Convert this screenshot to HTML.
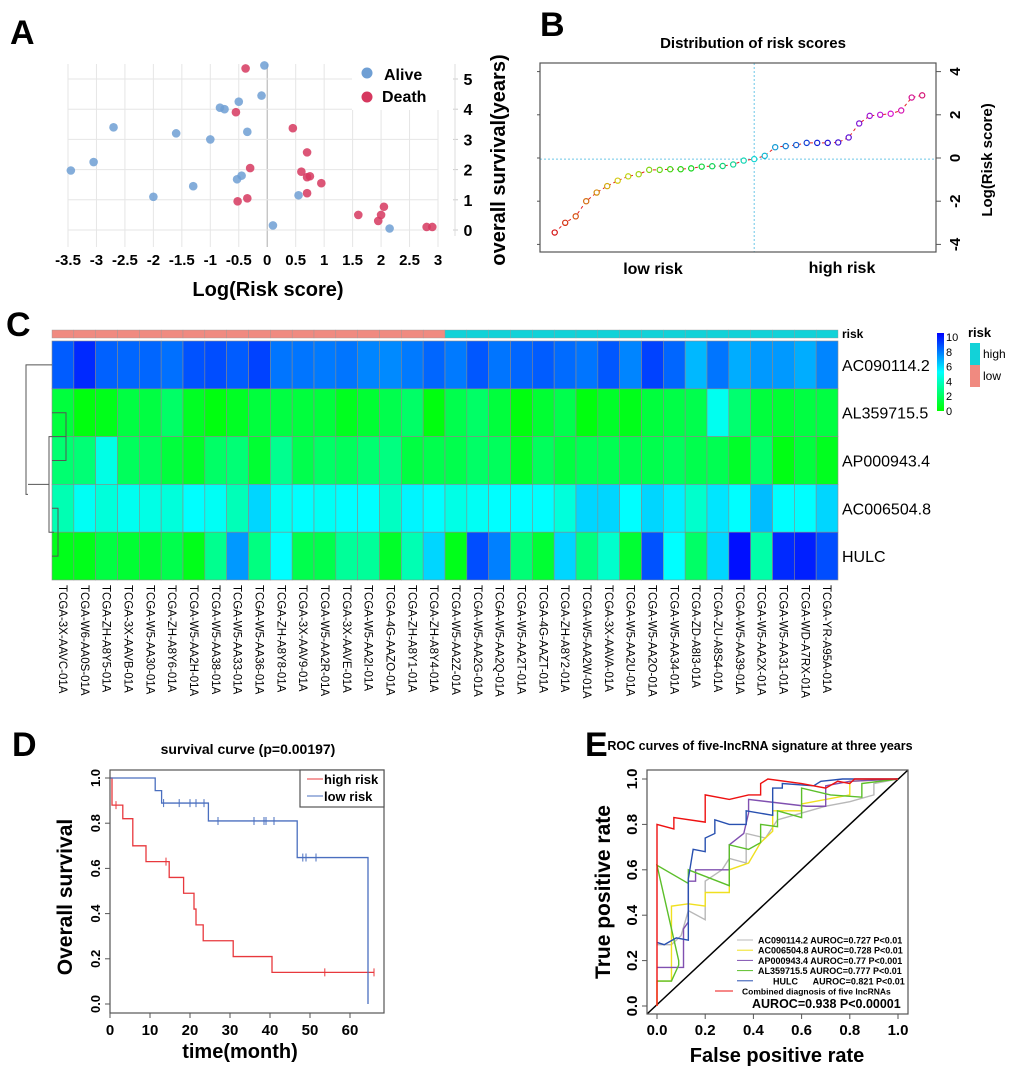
<!DOCTYPE html>
<html><head><meta charset="utf-8"><style>
html,body{margin:0;padding:0;background:#fff;}
svg{display:block;font-family:"Liberation Sans",sans-serif;}
.b{font-weight:bold;}
.pre{white-space:pre;}
</style></head><body>
<svg id="s" width="1020" height="1079" viewBox="0 0 1020 1079">
<text x="10" y="44" font-size="34" class="b">A</text>
<text x="540" y="36" font-size="34" class="b">B</text>
<text x="6" y="336" font-size="34" class="b">C</text>
<text x="12" y="756" font-size="34" class="b">D</text>
<text x="585" y="756" font-size="34" class="b">E</text>
<g id="gA"></g>
<g id="gB"></g>
<g id="gC"></g>
<g id="gD"></g>
<g id="gE"></g>
</svg>
<script>
// ---------- Panel A data ----------
const aliveX=[-0.05,-0.1,-0.5,-0.83,-0.75,-2.7,-1.6,-0.35,-1.0,-3.05,-3.45,-0.45,-0.53,-1.3,-2.0,0.55,0.1,2.15];
const aliveY=[5.45,4.45,4.25,4.05,4.0,3.4,3.2,3.25,3.0,2.25,1.97,1.8,1.68,1.45,1.1,1.15,0.15,0.05];
const deathX=[-0.38,-0.55,0.45,0.7,-0.3,0.6,0.7,0.75,0.95,0.7,-0.52,-0.35,2.05,1.6,2.0,1.95,2.8,2.9];
const deathY=[5.35,3.9,3.37,2.57,2.05,1.93,1.75,1.78,1.55,1.22,0.95,1.05,0.77,0.5,0.5,0.3,0.1,0.1];
const aXTicks=[-3.5,-3,-2.5,-2,-1.5,-1,-0.5,0,0.5,1,1.5,2,2.5,3];
const aYTicks=[0,1,2,3,4,5];
// ---------- Panel B data ----------
const riskScores=[-3.45,-3.0,-2.7,-2.0,-1.6,-1.3,-1.05,-0.85,-0.75,-0.55,-0.55,-0.52,-0.52,-0.48,-0.4,-0.38,-0.37,-0.3,-0.12,-0.05,0.1,0.5,0.55,0.6,0.7,0.7,0.7,0.72,0.95,1.6,1.95,2.0,2.05,2.2,2.8,2.9];
const bYTicks=[-4,-2,0,2,4];
// ---------- Panel C data ----------
const genes=["AC090114.2","AL359715.5","AP000943.4","AC006504.8","HULC"];
const samples=["TCGA-3X-AAVC-01A","TCGA-W6-AA0S-01A","TCGA-ZH-A8Y5-01A","TCGA-3X-AAVB-01A","TCGA-W5-AA30-01A","TCGA-ZH-A8Y6-01A","TCGA-W5-AA2H-01A","TCGA-W5-AA38-01A","TCGA-W5-AA33-01A","TCGA-W5-AA36-01A","TCGA-ZH-A8Y8-01A","TCGA-3X-AAV9-01A","TCGA-W5-AA2R-01A","TCGA-3X-AAVE-01A","TCGA-W5-AA2I-01A","TCGA-4G-AAZO-01A","TCGA-ZH-A8Y1-01A","TCGA-ZH-A8Y4-01A","TCGA-W5-AA2Z-01A","TCGA-W5-AA2G-01A","TCGA-W5-AA2Q-01A","TCGA-W5-AA2T-01A","TCGA-4G-AAZT-01A","TCGA-ZH-A8Y2-01A","TCGA-W5-AA2W-01A","TCGA-3X-AAVA-01A","TCGA-W5-AA2U-01A","TCGA-W5-AA2O-01A","TCGA-W5-AA34-01A","TCGA-ZD-A8I3-01A","TCGA-ZU-A8S4-01A","TCGA-W5-AA39-01A","TCGA-W5-AA2X-01A","TCGA-W5-AA31-01A","TCGA-WD-A7RX-01A","TCGA-YR-A95A-01A"];
const riskGroup=["low","low","low","low","low","low","low","low","low","low","low","low","low","low","low","low","low","low","high","high","high","high","high","high","high","high","high","high","high","high","high","high","high","high","high","high"];
const rowAC090114=[8.2,9.2,8.1,8.0,8.0,7.8,8.4,8.5,8.2,8.7,7.7,7.7,7.6,7.7,7.4,7.3,7.6,8.0,7.6,8.3,7.7,8.0,8.2,7.9,7.7,8.3,7.4,8.7,8.0,6.4,7.7,6.6,7.0,7.0,6.6,7.4];
const rowAL359715=[1.2,0.3,0.5,1.3,1.3,2,0.7,0.3,0.7,1.2,1.3,1.2,1.2,0.6,1,1.5,2,0.3,1.5,2,1.2,0.3,1,1.5,0.3,0.8,0.5,1.2,1.4,1.5,4.7,2.2,1.2,1.0,1.3,1.3];
const rowAP000943=[2.2,2.3,4.5,1.8,1.8,1.2,0.8,2,2.3,1,2.8,1.5,2,1.8,2.2,2.5,1.3,1.5,1.5,2,1.8,0.8,1.8,1.3,1.6,1.6,1.5,1.5,1.8,1.5,1.6,0.8,2,0.4,1.2,0.6];
const rowAC006504=[3.5,4.8,4.3,4.7,4.5,4.3,5,4.8,3.6,5.8,4.8,5,4.8,5,5,3.8,5.2,5,4.5,4.8,5,5,5,4.3,5.8,5.8,5,5.8,5.3,4,5.5,5,6.3,5,5,5.8];
const rowHULC=[0.5,0.5,1.3,1,1,1.5,0.5,2.8,7,2.5,5,1.5,1.5,3,3,0.8,3.5,5.8,0.5,8.5,7.5,2.3,1,5.8,2.5,4,1,8.4,5,2,5.8,9.7,3.3,9.2,9.4,8.5];
const colorbarTicks=[0,2,4,6,8,10];
// ---------- Panel D data ----------
const highT=[0,0.5,3.2,5.7,9,14.8,18.4,21,21.5,23.3,30.8,40.5,66];
const highS=[1.0,0.88,0.82,0.70,0.63,0.56,0.49,0.42,0.35,0.28,0.21,0.14,0.14];
const highCensT=[1.5,14,53.7,66];
const highCensS=[0.88,0.63,0.14,0.14];
const lowT=[0,11.3,12.9,24.6,46.8,64.5];
const lowS=[1.0,0.944,0.889,0.81,0.648,0];
const lowCensT=[13.4,17.3,20,21.5,23.5,27,36,38.5,39,41,48.2,49,51.5];
const lowCensS=[0.889,0.889,0.889,0.889,0.889,0.81,0.81,0.81,0.81,0.81,0.648,0.648,0.648];
const dXTicks=[0,10,20,30,40,50,60];
const dYTicks=[0,0.2,0.4,0.6,0.8,1.0];
// ---------- Panel E data ----------
const grayF=[0,0.06,0.1,0.13,0.2,0.2,0.27,0.3,0.37,0.37,0.45,0.5,0.6,0.7,0.8,0.9,0.9,1];
const grayT=[0.27,0.27,0.31,0.42,0.38,0.55,0.6,0.65,0.63,0.76,0.74,0.82,0.85,0.88,0.9,0.93,0.98,1];
const yellowF=[0,0,0.06,0.06,0.13,0.2,0.2,0.3,0.3,0.38,0.43,0.48,0.48,0.6,0.6,0.7,0.8,0.8,1];
const yellowT=[0,0.11,0.11,0.44,0.45,0.44,0.5,0.5,0.6,0.63,0.72,0.77,0.86,0.86,0.89,0.91,0.93,0.99,1];
const purpleF=[0,0.11,0.11,0.13,0.13,0.16,0.16,0.3,0.3,0.36,0.38,0.38,0.62,0.7,0.7,0.8,1];
const purpleT=[0.17,0.17,0.34,0.37,0.55,0.55,0.6,0.6,0.71,0.76,0.85,0.91,0.88,0.88,0.97,0.99,1];
const greenF=[0,0.06,0.09,0.09,0,0.13,0.13,0.3,0.3,0.38,0.43,0.43,0.5,0.5,0.6,0.6,0.72,0.85,0.85,1];
const greenT=[0.11,0.11,0.18,0.2,0.62,0.54,0.6,0.53,0.71,0.69,0.72,0.8,0.79,0.86,0.83,0.96,0.93,0.92,0.98,1];
const blueF=[0,0.03,0.08,0.13,0.13,0.15,0.2,0.2,0.24,0.24,0.3,0.37,0.37,0.48,0.48,0.52,0.52,0.65,0.68,0.77,1];
const blueT=[0.28,0.27,0.3,0.29,0.56,0.69,0.68,0.74,0.76,0.82,0.8,0.8,0.86,0.84,0.96,0.96,0.98,0.97,0.99,1.0,1];
const redF=[0,0,0.07,0.07,0.2,0.2,0.3,0.38,0.43,0.43,0.46,0.6,0.7,0.75,0.8,0.82,1];
const redT=[0,0.8,0.78,0.83,0.81,0.93,0.91,0.93,0.93,0.98,1.0,0.98,0.96,0.99,0.98,1.0,1];
const eTicks=[0,0.2,0.4,0.6,0.8,1.0];
const legendLabels=["AC090114.2 AUROC=0.727 P<0.01","AC006504.8 AUROC=0.728 P<0.01","AP000943.4 AUROC=0.77 P<0.001","AL359715.5 AUROC=0.777 P<0.01","      HULC      AUROC=0.821 P<0.01","Combined diagnosis of five lncRNAs"];

const NS="http://www.w3.org/2000/svg";
function mk(parent,tag,attrs,text){const e=document.createElementNS(NS,tag);for(const k in attrs)e.setAttribute(k,attrs[k]);if(text!==undefined)e.textContent=text;parent.appendChild(e);return e;}

// ===== Panel A =====
(function(){
const g=document.getElementById('gA');
const ax=v=>68+(v+3.5)/6.5*370, ay=v=>230-v*30.2;
aXTicks.forEach(t=>{const l=mk(g,'line',{x1:ax(t),x2:ax(t),y1:64,y2:247,stroke:t===0?'#bbb':'#e6e6e6','stroke-width':t===0?1.2:1});

const tx=mk(g,'text',{x:ax(t),y:265,'font-size':15,'text-anchor':'middle',class:'b'},String(t));
});
aYTicks.forEach(t=>{const l=mk(g,'line',{x1:68,x2:438,y1:ay(t),y2:ay(t),stroke:'#e6e6e6'});

const tk=mk(g,'line',{x1:453,x2:458,y1:ay(t),y2:ay(t),stroke:'#ccc'});

const tx=mk(g,'text',{x:468,y:ay(t)+6,'font-size':16,'text-anchor':'middle',class:'b'},String(t));
});
const ra=mk(g,'line',{x1:455,x2:455,y1:64,y2:236,stroke:'#ddd'});

aliveX.forEach((x,i)=>{const c=mk(g,'circle',{cx:ax(x),cy:ay(aliveY[i]),r:4.3,fill:'#6f9fd4','fill-opacity':0.85});
});
deathX.forEach((x,i)=>{const c=mk(g,'circle',{cx:ax(x),cy:ay(deathY[i]),r:4.3,fill:'#d6385f','fill-opacity':0.85});
});
const lg=mk(g,'rect',{x:352,y:60,width:90,height:50,fill:'#fff'});

let c=mk(g,'circle',{cx:367,cy:73,r:5.5,fill:'#6f9fd4'});
c=mk(g,'circle',{cx:367,cy:97,r:5.5,fill:'#d6385f'});
let t=mk(g,'text',{x:384,y:80,'font-size':16,class:'b'},'Alive');
t=mk(g,'text',{x:382,y:102,'font-size':16,class:'b'},'Death');
t=mk(g,'text',{x:268,y:296,'font-size':20,'text-anchor':'middle',class:'b'},'Log(Risk score)');
t=mk(g,'text',{x:0,y:0,'font-size':20,'text-anchor':'middle',class:'b',transform:'translate(505,160) rotate(-90)'},'overall survival(years)');
})();

// ===== Panel B =====
(function(){
const g=document.getElementById('gB');
const x0=540,x1=936,y0=63,y1=252;
const bx=i=>554.7+i*10.5, by=v=>158-v*21.6;
let t=mk(g,'text',{x:753,y:48,'font-size':15,'text-anchor':'middle',class:'b'},'Distribution of risk scores');
const vx=bx(19);
let l=mk(g,'line',{x1:vx,x2:vx,y1:y0,y2:y1,stroke:'#6cc8e8','stroke-dasharray':'2,2','stroke-width':1});
l=mk(g,'line',{x1:x0,x2:x1,y1:by(-0.05),y2:by(-0.05),stroke:'#6cc8e8','stroke-dasharray':'2,2','stroke-width':1});
const pts=riskScores.map((v,i)=>bx(i)+','+by(v)).join(' ');
l=mk(g,'polyline',{points:pts,fill:'none',stroke:'#e52020','stroke-dasharray':'3,3','stroke-width':1});
const n=riskScores.length;
riskScores.forEach((v,i)=>{const h=(i/(n-1))*330;const c=mk(g,'circle',{cx:bx(i),cy:by(v),r:2.6,fill:'#fff',stroke:`hsl(${h},85%,45%)`,'stroke-width':1.2});
});
const r=mk(g,'rect',{x:x0,y:y0,width:x1-x0,height:y1-y0,fill:'none',stroke:'#555','stroke-width':1.2});
bYTicks.forEach(v=>{const k=mk(g,'line',{x1:x1,x2:x1+5,y1:by(v),y2:by(v),stroke:'#555'});
const k2=mk(g,'line',{x1:x0-3,x2:x0,y1:by(v),y2:by(v),stroke:'#555'});
const tx=mk(g,'text',{x:0,y:0,'font-size':15,'text-anchor':'middle',class:'b',transform:`translate(${x1+24},${by(v)}) rotate(-90)`},String(v));});
t=mk(g,'text',{x:0,y:0,'font-size':15,'text-anchor':'middle',class:'b',transform:'translate(992,160) rotate(-90)'},'Log(Risk score)');
t=mk(g,'text',{x:653,y:274,'font-size':16,'text-anchor':'middle',class:'b'},'low risk');
t=mk(g,'text',{x:842,y:273,'font-size':16,'text-anchor':'middle',class:'b'},'high risk');
})();

// ===== Panel C =====
(function(){
const g=document.getElementById('gC');
const rows=[rowAC090114,rowAL359715,rowAP000943,rowAC006504,rowHULC];
const X0=52,W=786/samples.length,RY=341,RH=47.8;
function col(v){v=Math.max(0,Math.min(10,v));if(v<5)return `rgb(0,255,${Math.round(255*v/5)})`;const gg=Math.round(255*(10-v)/5);return `rgb(0,${gg},255)`;}
riskGroup.forEach((r,i)=>{const e=mk(g,'rect',{x:X0+i*W,y:330,width:W,height:8,fill:r==='low'?'#f08a80':'#12d2d8',stroke:'#999','stroke-width':0.4});
});
rows.forEach((row,j)=>{row.forEach((v,i)=>{const e=mk(g,'rect',{x:X0+i*W,y:RY+j*RH,width:W,height:RH,fill:col(v),stroke:'#8a8a8a','stroke-width':0.6});
});
const t=mk(g,'text',{x:842,y:RY+j*RH+RH/2+6,'font-size':16},genes[j]);});
let t=mk(g,'text',{x:842,y:338,'font-size':12,class:'b'},'risk');
samples.forEach((s,i)=>{const t=mk(g,'text',{x:0,y:0,'font-size':11.5,transform:`translate(${X0+i*W+W/2-4},585) rotate(90)`},s);
});
const yc=j=>RY+j*RH+RH/2;
const d=`M52,${yc(0)} H26 V${(yc(1)+yc(4))/2+10} H28 M52,${yc(1)} H66 V${yc(2)} H52 M66,${(yc(1)+yc(2))/2} H49 V${(yc(3)+yc(4))/2} H54 M52,${yc(3)} H58 V${yc(4)} H52 M49,${(yc(1)+yc(2)+yc(3)+yc(4))/4} H28`;
const p=mk(g,'path',{d:d,fill:'none',stroke:'#555','stroke-width':1});
const gr=mk(g,'defs',{});const lgd=mk(gr,'linearGradient',{id:'cb',x1:0,y1:1,x2:0,y2:0});
[[0,'#00ff00'],[0.5,'#00ffff'],[1,'#0000ff']].forEach(s=>mk(lgd,'stop',{offset:s[0],'stop-color':s[1]}));
const cb=mk(g,'rect',{x:937,y:333,width:7,height:78,fill:'url(#cb)'});
colorbarTicks.forEach(v=>{const t=mk(g,'text',{x:946,y:411-v*7.4+4,'font-size':11},String(v));});
t=mk(g,'text',{x:968,y:337,'font-size':13,class:'b'},'risk');
let r=mk(g,'rect',{x:970,y:343,width:10,height:22,fill:'#12d2d8'});
r=mk(g,'rect',{x:970,y:365,width:10,height:22,fill:'#f08a80'});
t=mk(g,'text',{x:983,y:358,'font-size':12},'high');
t=mk(g,'text',{x:983,y:380,'font-size':12},'low');
})();

// ===== Panel D =====
(function(){
const g=document.getElementById('gD');
const dx=v=>110+v*4.0, dy=v=>1004-v*226;
function stepPath(T,S){let d=`M${dx(T[0])},${dy(S[0])}`;for(let i=1;i<T.length;i++){d+=` H${dx(T[i])} V${dy(S[i])}`;}return d;}
let p=mk(g,'path',{d:stepPath(highT,highS),fill:'none',stroke:'#e8383d','stroke-width':1.3});
p=mk(g,'path',{d:stepPath(lowT,lowS),fill:'none',stroke:'#4a6fbf','stroke-width':1.3});
highCensT.forEach((t,i)=>{const l=mk(g,'line',{x1:dx(t),x2:dx(t),y1:dy(highCensS[i])-4,y2:dy(highCensS[i])+4,stroke:'#e8383d'});});
lowCensT.forEach((t,i)=>{const l=mk(g,'line',{x1:dx(t),x2:dx(t),y1:dy(lowCensS[i])-4,y2:dy(lowCensS[i])+4,stroke:'#4a6fbf'});});
const r=mk(g,'rect',{x:110,y:770,width:274,height:243,fill:'none',stroke:'#555','stroke-width':1.2});
dXTicks.forEach(v=>{const k=mk(g,'line',{x1:dx(v),x2:dx(v),y1:1013,y2:1018,stroke:'#555'});
const t=mk(g,'text',{x:dx(v),y:1035,'font-size':15,'text-anchor':'middle',class:'b'},String(v));});
dYTicks.forEach(v=>{const k=mk(g,'line',{x1:105,x2:110,y1:dy(v),y2:dy(v),stroke:'#555'});
const t=mk(g,'text',{x:0,y:0,'font-size':13,'text-anchor':'middle',class:'b',transform:`translate(100,${dy(v)}) rotate(-90)`},v.toFixed(1));});
let t=mk(g,'text',{x:248,y:754,'font-size':14,'text-anchor':'middle',class:'b'},'survival curve (p=0.00197)');
t=mk(g,'text',{x:240,y:1058,'font-size':20,'text-anchor':'middle',class:'b'},'time(month)');
t=mk(g,'text',{x:0,y:0,'font-size':21,'text-anchor':'middle',class:'b',transform:'translate(72,897) rotate(-90)'},'Overall survival');
const lr=mk(g,'rect',{x:300,y:770,width:84,height:37,fill:'#fff',stroke:'#555','stroke-width':1.2});
let l=mk(g,'line',{x1:307,x2:323,y1:779,y2:779,stroke:'#e8383d'});
l=mk(g,'line',{x1:307,x2:323,y1:796,y2:796,stroke:'#4a6fbf'});
t=mk(g,'text',{x:324,y:784,'font-size':13,class:'b'},'high risk');
t=mk(g,'text',{x:324,y:801,'font-size':13,class:'b'},'low risk');
})();

// ===== Panel E =====
(function(){
const g=document.getElementById('gE');
const ex=v=>657+v*241, ey=v=>1006-v*227;
let t=mk(g,'text',{x:760,y:750,'font-size':12.5,'text-anchor':'middle',class:'b'},'ROC curves of five-IncRNA signature at three years');
let l=mk(g,'line',{x1:647,y1:1014,x2:908,y2:770,stroke:'#000','stroke-width':1.5});
const series=[[grayF,grayT,'#b8b8b8','roc-ac090114'],[yellowF,yellowT,'#f0e020','roc-ac006504'],[purpleF,purpleT,'#8050b0','roc-ap000943'],[greenF,greenT,'#5cbf2a','roc-al359715'],[blueF,blueT,'#2850b0','roc-hulc'],[redF,redT,'#ee1111','roc-combined']];
series.forEach(s=>{const pts=s[0].map((f,i)=>ex(f)+','+ey(s[1][i])).join(' ');const p=mk(g,'polyline',{points:pts,fill:'none',stroke:s[2],'stroke-width':1.4});
});
const r=mk(g,'rect',{x:647,y:770,width:261,height:244,fill:'none',stroke:'#555','stroke-width':1.2});
eTicks.forEach(v=>{let k=mk(g,'line',{x1:ex(v),x2:ex(v),y1:1014,y2:1019,stroke:'#555'});
let tx=mk(g,'text',{x:ex(v),y:1035,'font-size':15,'text-anchor':'middle',class:'b'},v.toFixed(1));
k=mk(g,'line',{x1:642,x2:647,y1:ey(v),y2:ey(v),stroke:'#555'});
tx=mk(g,'text',{x:0,y:0,'font-size':15,'text-anchor':'middle',class:'b',transform:`translate(637,${ey(v)}) rotate(-90)`},v.toFixed(1));});
t=mk(g,'text',{x:777,y:1062,'font-size':20,'text-anchor':'middle',class:'b'},'False positive rate');
t=mk(g,'text',{x:0,y:0,'font-size':21,'text-anchor':'middle',class:'b',transform:'translate(610,892) rotate(-90)'},'True positive rate');
const cols=['#b8b8b8','#f0e020','#8050b0','#5cbf2a','#2850b0','#ee1111'];
legendLabels.forEach((s,i)=>{const y=940+i*10.2;const lx1=i===5?715:737,lx2=i===5?733:753;
const ln=mk(g,'line',{x1:lx1,x2:lx2,y1:y,y2:y,stroke:cols[i],'stroke-width':1});
const tx=mk(g,'text',{x:i===5?742:758,y:y+3.5,'font-size':i===5?8.5:9,class:'b pre'},s);});
t=mk(g,'text',{x:752,y:1008,'font-size':12.5,class:'b'},'AUROC=0.938 P<0.00001');
})();
</script>
</body></html>
